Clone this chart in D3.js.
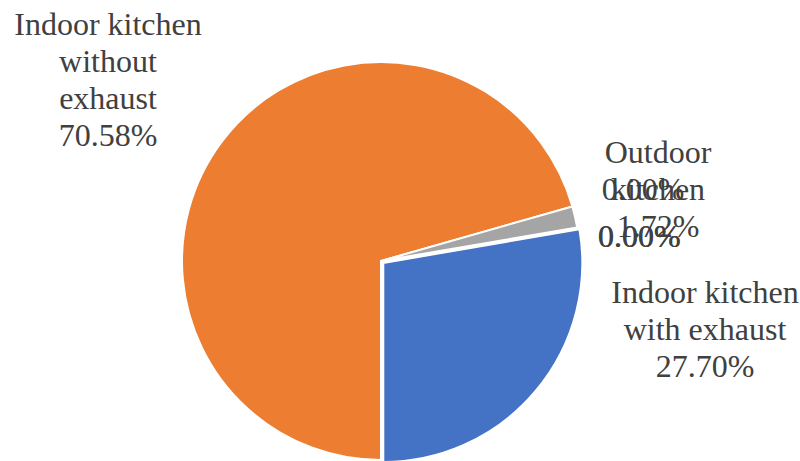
<!DOCTYPE html>
<html>
<head>
<meta charset="utf-8">
<script src="https://cdn.jsdelivr.net/npm/d3@7"></script>
<style>
  html, body { margin: 0; padding: 0; background: #ffffff; }
  svg { display: block; }
  .label { font-family: "Liberation Serif", "Times New Roman", serif; font-size: 32px; fill: #404040; }
</style>
</head>
<body>
<svg id="chart" width="800" height="461"></svg>
<script>
// Kitchen type shares (%)
const categories = [
  "Indoor kitchen without exhaust",
  "Outdoor kitchen",
  "Other A",
  "Other B",
  "Other C",
  "Indoor kitchen with exhaust"
];
const nameLines = [
  ["Indoor kitchen", "without", "exhaust"],
  ["Outdoor", "kitchen"],
  [],
  [],
  [],
  ["Indoor kitchen", "with exhaust"]
];
const values = [70.58, 1.72, 0.00, 0.00, 0.00, 27.70];
const colors = ["#ED7D31", "#A5A5A5", "#FFC000", "#5B9BD5", "#70AD47", "#4472C4"];

// Pie geometry and label anchors (relative to pie centre)
const cx = 381, cy = 261, radius = 199;
const explode = [0, 0, 0, 0, 0, 3];
const labelAnchor = [
  [-273, -226],  // centre x, first baseline
  [277, -98],
  [262, -61],
  [258, -14],
  [258.6, -13.6],
  [324, 42]
];
const lineHeight = 37;

const svg = d3.select("#chart");
const g = svg.append("g").attr("transform", `translate(${cx},${cy})`);

const pie = d3.pie()
  .value(d => d)
  .sort(null)
  .startAngle(Math.PI)
  .endAngle(3 * Math.PI);

const arcs = pie(values);
const arc = d3.arc().innerRadius(0).outerRadius(radius);

g.selectAll("path.slice")
  .data(arcs.filter(d => d.value > 0))
  .join("path")
  .attr("class", "slice")
  .attr("d", arc)
  .attr("fill", d => colors[d.index])
  .attr("stroke", "#ffffff")
  .attr("stroke-width", 2)
  .attr("stroke-linejoin", "miter")
  .attr("transform", d => {
    const mid = (d.startAngle + d.endAngle) / 2;
    const off = explode[d.index];
    return `translate(${off * Math.sin(mid)},${-off * Math.cos(mid)})`;
  });

// Data labels: category name lines followed by the percentage
const fmt = v => v.toFixed(2) + "%";
const labels = g.selectAll("text.label")
  .data(arcs)
  .join("text")
  .attr("class", "label")
  .attr("text-anchor", "middle")
  .attr("x", (d, i) => labelAnchor[i][0])
  .attr("y", (d, i) => labelAnchor[i][1]);

labels.each(function(d, i) {
  const lines = nameLines[i].concat([fmt(values[i])]);
  d3.select(this).selectAll("tspan")
    .data(lines)
    .join("tspan")
    .attr("x", labelAnchor[i][0])
    .attr("dy", (t, j) => j === 0 ? 0 : lineHeight)
    .text(t => t);
});
</script>
</body>
</html>
